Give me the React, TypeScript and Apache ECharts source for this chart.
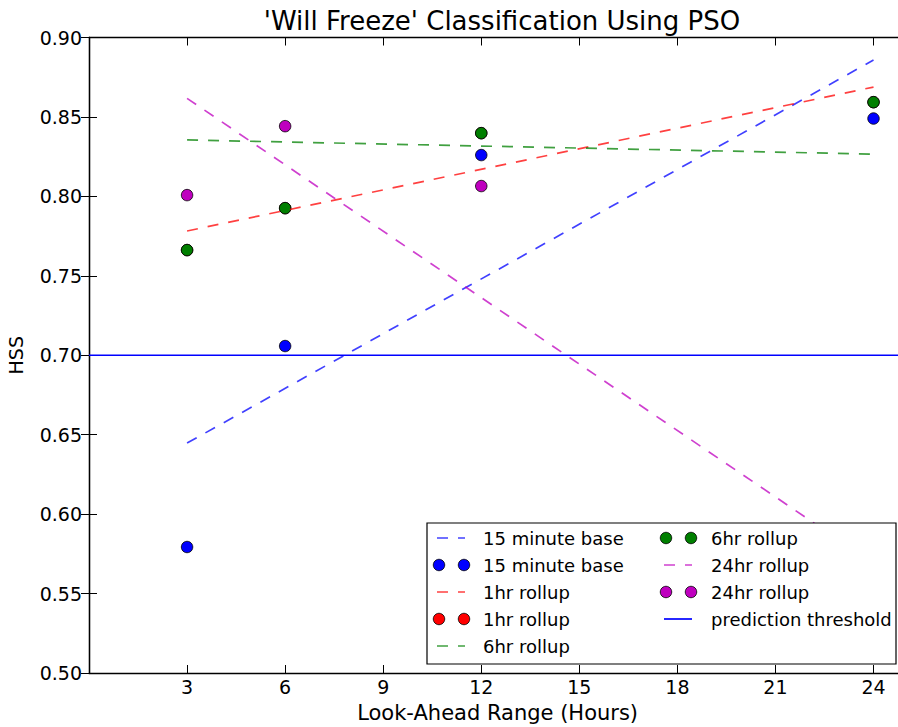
import React, { useEffect, useRef } from "react";
import * as echarts from "echarts";

// ---- data ----
const lookAhead = [3, 6, 12, 24];
const base15 = [0.5793, 0.7058, 0.826, 0.849];
const rollup1 = [0.7662, 0.7926, 0.8398, 0.8593];
const rollup6 = [0.7662, 0.7926, 0.8398, 0.8593];
const rollup24 = [0.8008, 0.8442, 0.8065, 0.535];

const trendX = [3, 24];
const base15Trend = [0.6447, 0.8858];
const rollup1Trend = [0.7782, 0.8688];
const rollup6Trend = [0.8355, 0.8266];
const rollup24Trend = [0.8617, 0.569];

const thresholdX = [0, 25];
const thresholdValue = 0.7;

const legendLabels = [
  "15 minute base",
  "15 minute base",
  "1hr rollup",
  "1hr rollup",
  "6hr rollup",
  "6hr rollup",
  "24hr rollup",
  "24hr rollup",
  "prediction threshold",
];

const titleText = "'Will Freeze' Classification Using PSO";
const xName = "Look-Ahead Range (Hours)";
const yName = "HSS";

const FONT = "DejaVu Sans";
const BLUE = "#0000ff";
const RED = "#ff0000";
const GREEN = "#007f00";
const MAG = "#bf00bf";
const BLUE_D = "rgba(0,0,255,0.75)";
const RED_D = "rgba(255,0,0,0.75)";
const GREEN_D = "rgba(0,128,0,0.75)";
const MAG_D = "rgba(191,0,191,0.75)";

const pairs = (xs: number[], ys: number[]) => xs.map((x, i) => [x, ys[i]]);

function dashSeries(name: string, ys: number[], color: string) {
  return {
    type: "line",
    name,
    data: pairs(trendX, ys),
    symbol: "none",
    lineStyle: { color, width: 1.7, type: [11, 10] },
    silent: true,
  };
}
function dotSeries(name: string, ys: number[], color: string) {
  return {
    type: "scatter",
    name,
    data: pairs(lookAhead, ys),
    symbol: "circle",
    symbolSize: 11.5,
    itemStyle: { color, borderColor: "#000", borderWidth: 0.8, opacity: 1 },
    silent: true,
  };
}

function legendGraphic() {
  const rows = [538, 565, 592, 619, 646];
  const colL = { a: 439, b: 464, text: 483 };
  const colR = { a: 666, b: 691, text: 711 };
  const items: any[] = [];
  items.push({
    type: "rect",
    shape: { x: 427, y: 523, width: 469, height: 141 },
    style: { fill: "#fff", stroke: "#000", lineWidth: 1.2 },
    z: 100,
  });
  const kinds: { col: any; row: number; kind: string; color: string }[] = [
    { col: colL, row: rows[0], kind: "dash", color: BLUE_D },
    { col: colL, row: rows[1], kind: "dot", color: BLUE },
    { col: colL, row: rows[2], kind: "dash", color: RED_D },
    { col: colL, row: rows[3], kind: "dot", color: RED },
    { col: colL, row: rows[4], kind: "dash", color: GREEN_D },
    { col: colR, row: rows[0], kind: "dot", color: GREEN },
    { col: colR, row: rows[1], kind: "dash", color: MAG_D },
    { col: colR, row: rows[2], kind: "dot", color: MAG },
    { col: colR, row: rows[3], kind: "solid", color: BLUE },
  ];
  kinds.forEach((k, i) => {
    const x1 = k.col.a - 2;
    const x2 = k.col.b + 1;
    if (k.kind === "dash") {
      items.push({
        type: "line",
        shape: { x1, y1: k.row, x2, y2: k.row },
        style: { stroke: k.color, lineWidth: 1.7, lineDash: [11, 10] },
        z: 101,
      });
    } else if (k.kind === "solid") {
      items.push({
        type: "line",
        shape: { x1, y1: k.row, x2, y2: k.row },
        style: { stroke: k.color, lineWidth: 1.7 },
        z: 101,
      });
    } else {
      [k.col.a, k.col.b].forEach((cx: number) =>
        items.push({
          type: "circle",
          shape: { cx, cy: k.row, r: 5.75 },
          style: { fill: k.color, stroke: "#000", lineWidth: 0.8 },
          z: 101,
        })
      );
    }
    items.push({
      type: "text",
      x: k.col.text,
      y: k.row,
      style: {
        text: legendLabels[i],
        fontFamily: FONT,
        fontSize: 18,
        fill: "#000",
        verticalAlign: "middle",
        align: "left",
      },
      z: 101,
    });
  });
  return items;
}

export default function App() {
  const ref = useRef<HTMLDivElement>(null);
  useEffect(() => {
    if (!ref.current) return;
    const chart = echarts.init(ref.current, undefined, { renderer: "svg" });
    const axisLine = { show: true, lineStyle: { color: "#000", width: 1.3 } };
    const tick = { show: true, inside: true, length: 8, lineStyle: { color: "#000", width: 1 } };
    const labelStyle = { fontFamily: FONT, fontSize: 19, color: "#000" };
    chart.setOption({
      animation: false,
      backgroundColor: "#fff",
      title: {
        text: titleText,
        left: 497,
        top: 3,
        textAlign: "center",
        textStyle: { fontFamily: FONT, fontSize: 26, fontWeight: "normal", color: "#000" },
      },
      grid: {
        left: 89,
        right: -8.2,
        top: 37.5,
        bottom: 54,
        containLabel: false,
        outerBoundsMode: "none",
      },
      xAxis: [
        {
          type: "value",
          min: 0,
          max: 25,
          interval: 3,
          position: "bottom",
          name: xName,
          nameLocation: "middle",
          nameGap: 29,
          nameTextStyle: { fontFamily: FONT, fontSize: 21, color: "#000" },
          axisLine,
          axisTick: tick,
          splitLine: { show: false },
          axisLabel: {
            ...labelStyle,
            margin: 4,
            showMaxLabel: false,
            formatter: (v: number) => (v === 0 ? "" : String(v)),
          },
        },
        {
          type: "value",
          min: 0,
          max: 25,
          interval: 3,
          position: "top",
          axisLine,
          axisTick: tick,
          splitLine: { show: false },
          axisLabel: { show: false },
        },
      ],
      yAxis: [
        {
          type: "value",
          min: 0.5,
          max: 0.9,
          interval: 0.05,
          position: "left",
          name: yName,
          nameLocation: "middle",
          nameGap: 64,
          nameTextStyle: { fontFamily: FONT, fontSize: 19, color: "#000" },
          axisLine,
          axisTick: tick,
          splitLine: { show: false },
          axisLabel: { ...labelStyle, margin: 7, formatter: (v: number) => v.toFixed(2) },
        },
        {
          type: "value",
          min: 0.5,
          max: 0.9,
          interval: 0.05,
          position: "right",
          axisLine,
          axisTick: tick,
          splitLine: { show: false },
          axisLabel: { show: false },
        },
      ],
      series: [
        dashSeries("15 minute base trend", base15Trend, BLUE_D),
        dotSeries("15 minute base", base15, BLUE),
        dashSeries("1hr rollup trend", rollup1Trend, RED_D),
        dotSeries("1hr rollup", rollup1, RED),
        dashSeries("6hr rollup trend", rollup6Trend, GREEN_D),
        dotSeries("6hr rollup", rollup6, GREEN),
        dashSeries("24hr rollup trend", rollup24Trend, MAG_D),
        dotSeries("24hr rollup", rollup24, MAG),
        {
          type: "line",
          name: "prediction threshold",
          data: thresholdX.map((x) => [x, thresholdValue]),
          symbol: "none",
          lineStyle: { color: BLUE, width: 1.7, type: "solid" },
          silent: true,
        },
      ],
      graphic: { elements: legendGraphic() },
    });
    return () => chart.dispose();
  }, []);
  return (
    <div
      ref={ref}
      style={{ position: "absolute", left: 0, top: 0, width: 898, height: 727 }}
    />
  );
}
